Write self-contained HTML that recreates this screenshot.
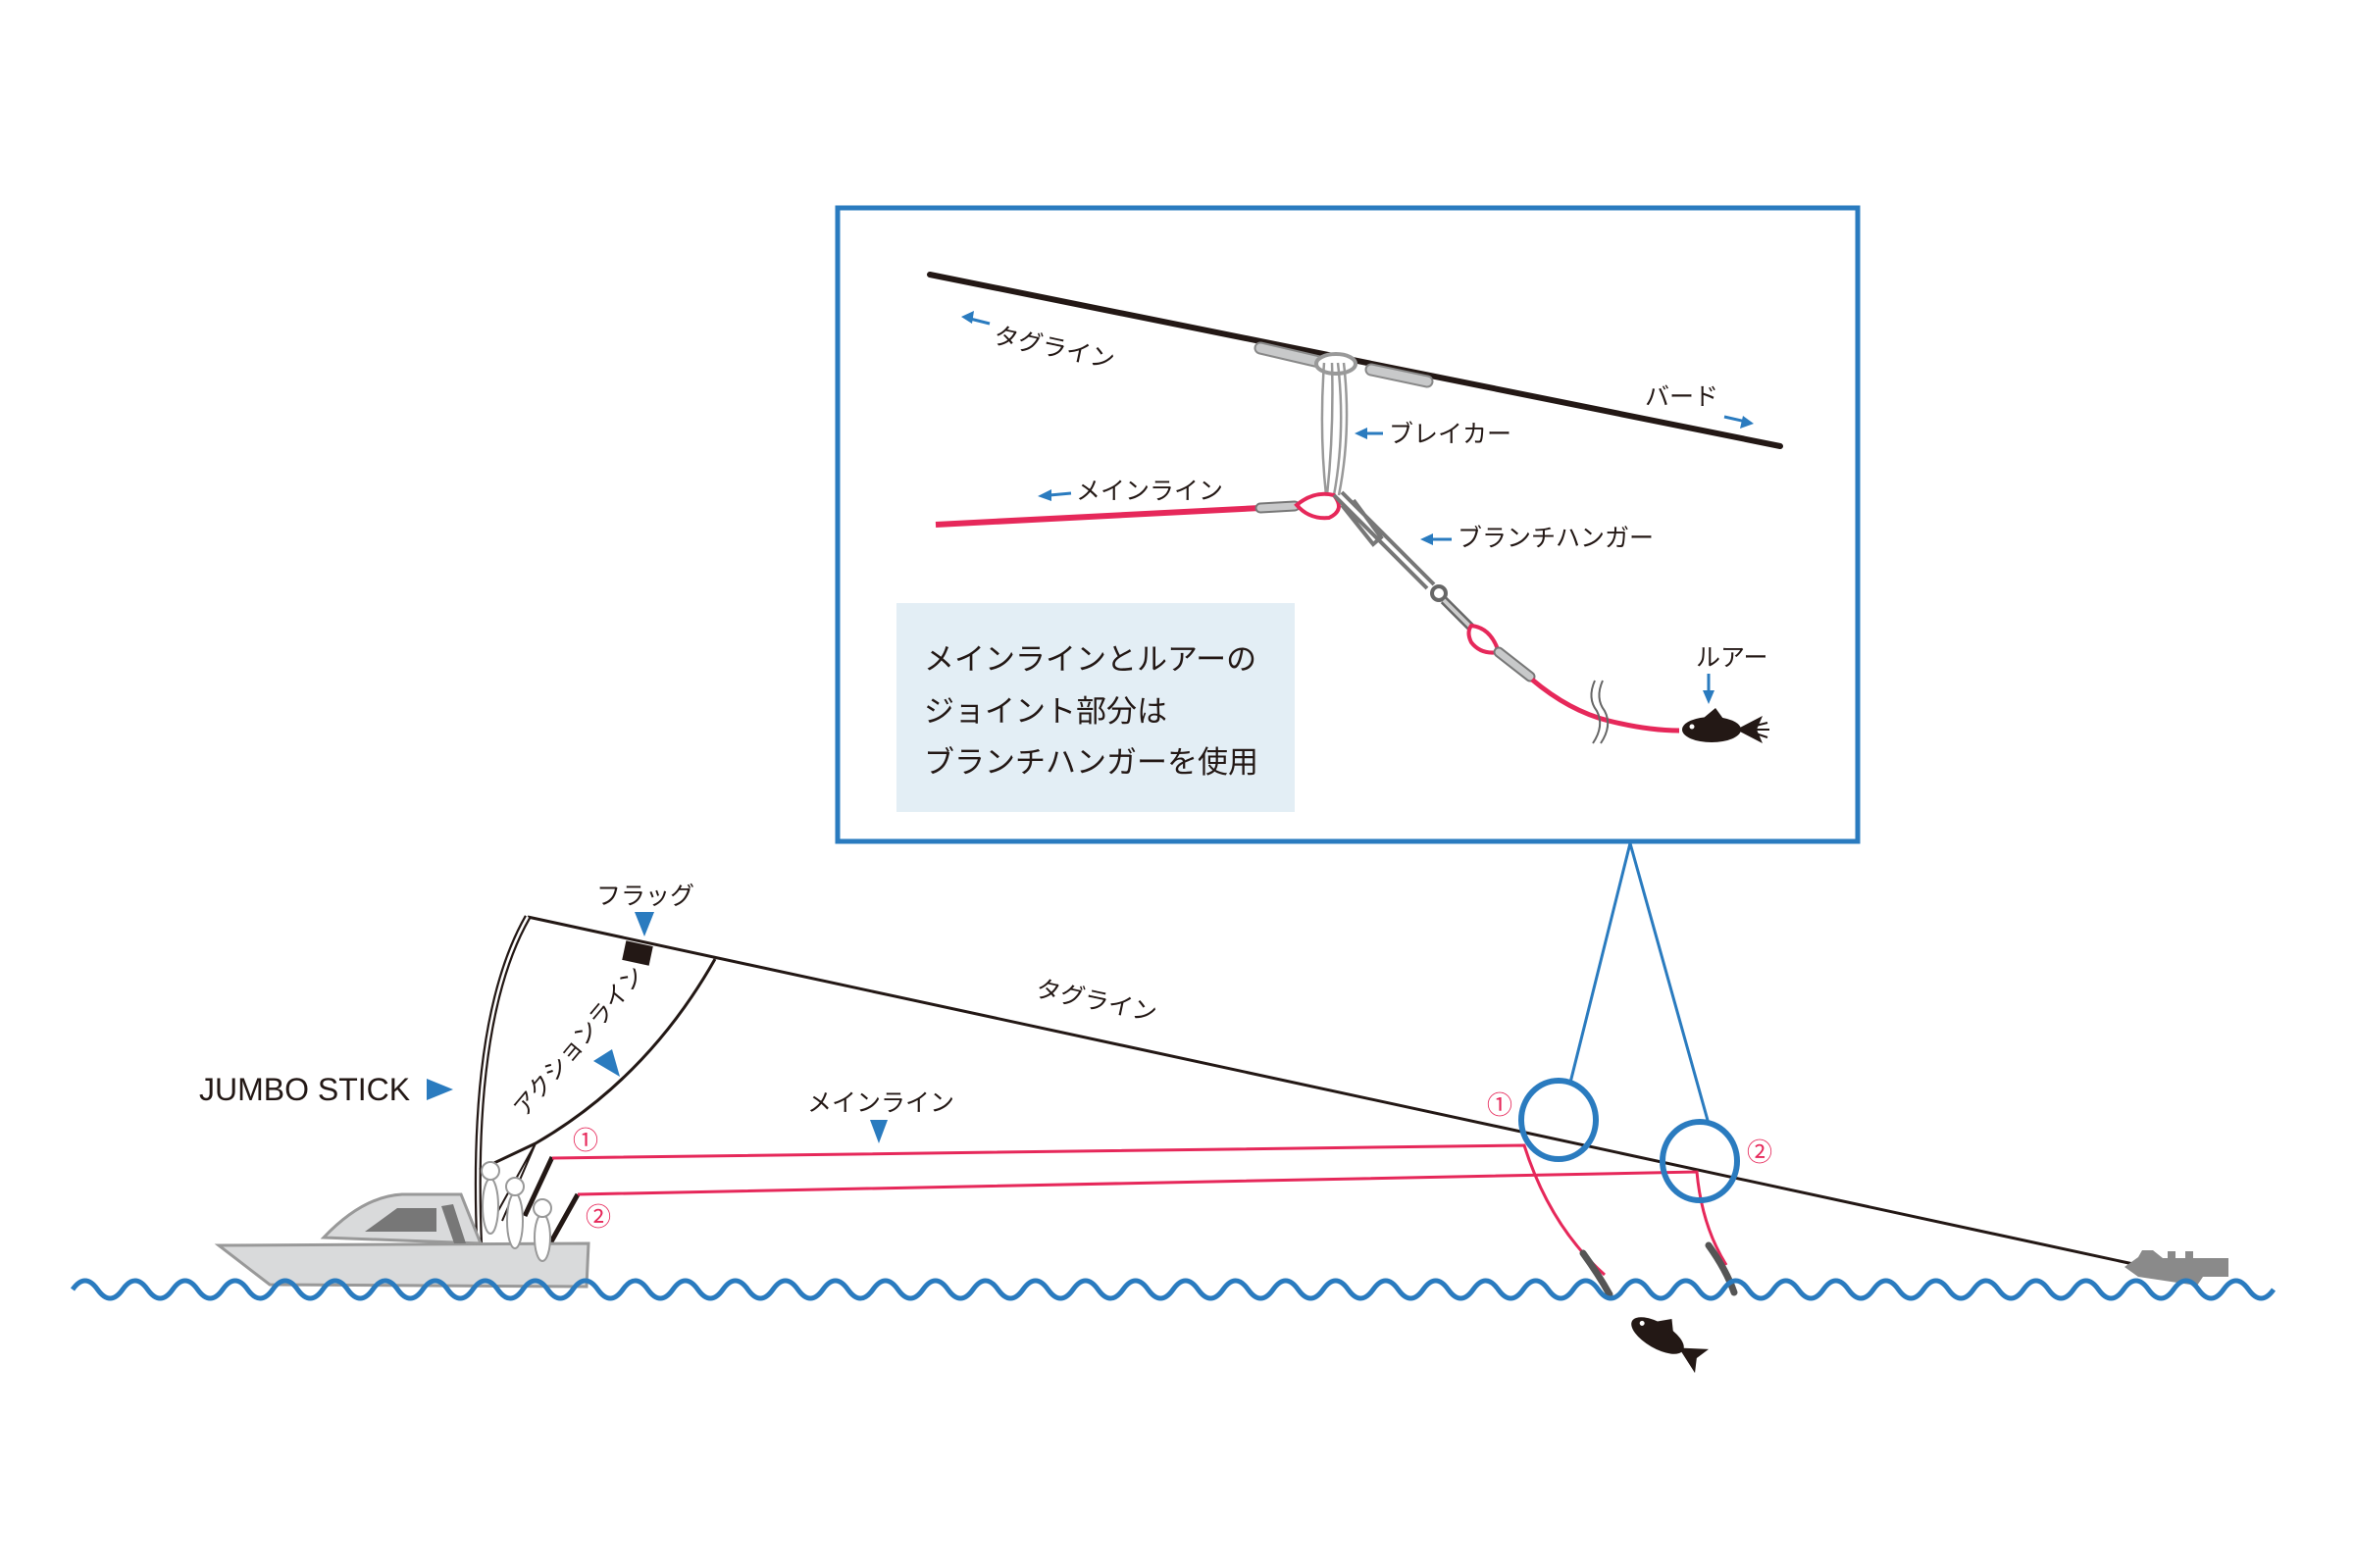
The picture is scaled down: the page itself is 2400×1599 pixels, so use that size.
<!DOCTYPE html>
<html><head><meta charset="utf-8"><style>
html,body{margin:0;padding:0;background:#fff;}
svg{display:block;}
text{font-family:"Liberation Sans","Noto Sans CJK JP",sans-serif;fill:#231815;}
</style></head><body>
<svg width="2400" height="1599" viewBox="0 0 2400 1599" xmlns="http://www.w3.org/2000/svg">
<defs>
<g id="fish"><ellipse cx="0" cy="0" rx="30" ry="13" fill="#231815"/><path d="M25,0 L52,-14 L46,0 L52,14 Z" fill="#231815"/><path d="M-8,-12 L4,-22 L12,-11 Z" fill="#231815"/><circle cx="-20" cy="-3" r="2.5" fill="#fff"/></g>
</defs>

<rect x="854" y="212" width="1040" height="646" fill="#fff" stroke="#2a7bbf" stroke-width="5"/>
<rect x="914" y="615" width="406" height="213" fill="#e3eef5"/>
<text x="942" y="683" font-size="31">メインラインとルアーの</text>
<text x="942" y="736" font-size="31">ジョイント部分は</text>
<text x="942" y="788" font-size="31">ブランチハンガーを使用</text>

<line x1="948" y1="280" x2="1815" y2="455" stroke="#231815" stroke-width="6" stroke-linecap="round"/>
<line x1="1285" y1="355" x2="1345" y2="369" stroke="#888" stroke-width="13" stroke-linecap="round"/>
<line x1="1285" y1="355" x2="1345" y2="369" stroke="#c8c9ca" stroke-width="9" stroke-linecap="round"/>
<line x1="1398" y1="377" x2="1455" y2="389" stroke="#888" stroke-width="13" stroke-linecap="round"/>
<line x1="1398" y1="377" x2="1455" y2="389" stroke="#c8c9ca" stroke-width="9" stroke-linecap="round"/>
<ellipse cx="1362" cy="371" rx="20" ry="10" fill="#fff" stroke="#999" stroke-width="4"/>
<path d="M1350,370 Q1345,440 1352,505 M1358,370 Q1360,440 1353,505 M1364,370 Q1372,440 1360,505 M1370,370 Q1378,440 1365,505" fill="none" stroke="#999" stroke-width="2.5"/>
<path d="M954,535 L1285,518" stroke="#e6285a" stroke-width="6" fill="none"/>
<line x1="1285" y1="518" x2="1320" y2="516" stroke="#777" stroke-width="11" stroke-linecap="round"/>
<line x1="1285" y1="518" x2="1320" y2="516" stroke="#c8c9ca" stroke-width="7" stroke-linecap="round"/>
<path d="M1322,515 Q1340,500 1360,505 Q1372,520 1355,528 Q1335,530 1322,515 Z" fill="none" stroke="#e6285a" stroke-width="4"/>
<path d="M1360,505 L1455,600 M1368,502 L1462,596 M1368,515 L1400,555 L1408,548 L1380,510" fill="none" stroke="#777" stroke-width="4"/>
<circle cx="1467" cy="605" r="7" fill="none" stroke="#666" stroke-width="4"/>
<path d="M1472,612 L1500,640" stroke="#666" stroke-width="9"/>
<path d="M1472,612 L1500,640" stroke="#ccc" stroke-width="4"/>
<path d="M1500,638 Q1520,640 1528,665 Q1510,668 1500,655 Q1495,645 1500,638 Z" fill="none" stroke="#e6285a" stroke-width="4"/>
<line x1="1528" y1="665" x2="1560" y2="690" stroke="#777" stroke-width="11" stroke-linecap="round"/>
<line x1="1528" y1="665" x2="1560" y2="690" stroke="#c8c9ca" stroke-width="7" stroke-linecap="round"/>
<path d="M1562,693 Q1600,725 1640,735 Q1680,745 1712,745" fill="none" stroke="#e6285a" stroke-width="5"/>
<path d="M1626,694 Q1618,712 1628,725 Q1636,740 1624,758 M1634,694 Q1626,712 1636,725 Q1644,740 1632,758" fill="none" stroke="#666" stroke-width="2"/>
<use href="#fish" x="1745" y="744"/>
<path d="M1790,740 l12,-3 M1790,744 l14,0 M1790,748 l12,4" stroke="#231815" stroke-width="2"/>
<text x="1012" y="350" font-size="25" transform="rotate(12 1012 350)">タグライン</text>
<path d="M1009,330 L985,324" stroke="#2a7bbf" stroke-width="3"/><path d="M980,323 L993,317 L991,330 Z" fill="#2a7bbf"/>
<text x="1677" y="413" font-size="25">バード</text>
<path d="M1758,425 L1780,430" stroke="#2a7bbf" stroke-width="3"/><path d="M1788,432 L1774,437 L1777,424 Z" fill="#2a7bbf"/>
<text x="1416" y="451" font-size="25">ブレイカー</text>
<path d="M1410,442 L1390,442" stroke="#2a7bbf" stroke-width="3"/><path d="M1381,442 L1394,436 L1394,448 Z" fill="#2a7bbf"/>
<text x="1097" y="509" font-size="25">メインライン</text>
<path d="M1092,503 L1070,505" stroke="#2a7bbf" stroke-width="3"/><path d="M1058,506 L1072,499 L1072,511 Z" fill="#2a7bbf"/>
<text x="1486" y="557" font-size="25">ブランチハンガー</text>
<path d="M1480,550 L1458,550" stroke="#2a7bbf" stroke-width="3"/><path d="M1448,550 L1461,544 L1461,556 Z" fill="#2a7bbf"/>
<text x="1729" y="679" font-size="25">ルアー</text>
<path d="M1742,687 L1742,708" stroke="#2a7bbf" stroke-width="3"/><path d="M1742,718 L1736,704 L1748,704 Z" fill="#2a7bbf"/>

<path d="M1662,860 L1601,1104 M1662,860 L1742,1146" stroke="#2a7bbf" stroke-width="3" fill="none"/>

<line x1="538" y1="935" x2="2175" y2="1289" stroke="#231815" stroke-width="3"/>
<rect x="636" y="962" width="28" height="20" fill="#231815" transform="rotate(12 650 972)"/>
<path d="M489,1278 Q478,1040 538,935" fill="none" stroke="#231815" stroke-width="7"/>
<path d="M489,1278 Q478,1040 538,935" fill="none" stroke="#fff" stroke-width="2.5"/>
<path d="M729,978 Q660,1100 546,1166 L489,1193" fill="none" stroke="#231815" stroke-width="3"/>
<path d="M546,1166 L505,1240 M546,1166 L512,1245" stroke="#231815" stroke-width="2"/>
<path d="M535,1240 L563,1180 M561,1268 L589,1218" stroke="#231815" stroke-width="5"/>
<path d="M563,1181 L1554,1168 Q1580,1250 1636,1300" fill="none" stroke="#e6285a" stroke-width="3"/>
<path d="M589,1218 L1730,1195 Q1735,1250 1760,1290" fill="none" stroke="#e6285a" stroke-width="3"/>
<path d="M1614,1278 Q1630,1300 1641,1320" stroke="#555" stroke-width="7" stroke-linecap="round"/>
<path d="M1742,1270 Q1760,1295 1768,1318" stroke="#555" stroke-width="7" stroke-linecap="round"/>
<ellipse cx="1589" cy="1142" rx="38" ry="40" fill="none" stroke="#2a7bbf" stroke-width="6"/>
<ellipse cx="1733" cy="1184" rx="38" ry="40" fill="none" stroke="#2a7bbf" stroke-width="6"/>
<text x="1516" y="1136" font-size="26" style="fill:#e6285a">①</text>
<text x="1781" y="1184" font-size="26" style="fill:#e6285a">②</text>
<text x="584" y="1172" font-size="26" style="fill:#e6285a">①</text>
<text x="597" y="1250" font-size="26" style="fill:#e6285a">②</text>

<path d="M223,1270 L600,1268 L598,1312 L275,1310 Z" fill="#d9dadb" stroke="#999" stroke-width="3"/>
<path d="M330,1262 Q370,1220 410,1218 L470,1218 L490,1268 Z" fill="#d9dadb" stroke="#999" stroke-width="3"/>
<path d="M372,1256 L405,1232 L445,1232 L445,1256 Z" fill="#777"/>
<path d="M450,1230 L462,1228 L475,1268 L463,1268 Z" fill="#777"/>
<ellipse cx="500" cy="1230" rx="8" ry="28" fill="#fff" stroke="#999" stroke-width="2"/><circle cx="500" cy="1194" r="9" fill="#fff" stroke="#999" stroke-width="2"/>
<ellipse cx="525" cy="1245" rx="8" ry="28" fill="#fff" stroke="#999" stroke-width="2"/><circle cx="525" cy="1210" r="9" fill="#fff" stroke="#999" stroke-width="2"/>
<ellipse cx="553" cy="1262" rx="8" ry="24" fill="#fff" stroke="#999" stroke-width="2"/><circle cx="553" cy="1232" r="9" fill="#fff" stroke="#999" stroke-width="2"/>
<path d="M2166,1292 L2180,1282 L2184,1275 L2195,1275 L2205,1283 L2210,1283 L2210,1276 L2218,1276 L2218,1283 L2228,1283 L2228,1276 L2236,1276 L2236,1283 L2272,1283 L2272,1302 L2246,1302 L2240,1311 L2180,1302 Z" fill="#8a8a8a"/>
<use href="#fish" transform="translate(1690,1362) rotate(30)"/>

<path d="M74,1315 q12.75,-18 25.5,0
t25.5,0 t25.5,0 t25.5,0 t25.5,0 t25.5,0 t25.5,0 t25.5,0 t25.5,0 t25.5,0 t25.5,0
t25.5,0 t25.5,0 t25.5,0 t25.5,0 t25.5,0 t25.5,0 t25.5,0 t25.5,0 t25.5,0 t25.5,0
t25.5,0 t25.5,0 t25.5,0 t25.5,0 t25.5,0 t25.5,0 t25.5,0 t25.5,0 t25.5,0 t25.5,0
t25.5,0 t25.5,0 t25.5,0 t25.5,0 t25.5,0 t25.5,0 t25.5,0 t25.5,0 t25.5,0 t25.5,0
t25.5,0 t25.5,0 t25.5,0 t25.5,0 t25.5,0 t25.5,0 t25.5,0 t25.5,0 t25.5,0 t25.5,0
t25.5,0 t25.5,0 t25.5,0 t25.5,0 t25.5,0 t25.5,0 t25.5,0 t25.5,0 t25.5,0 t25.5,0
t25.5,0 t25.5,0 t25.5,0 t25.5,0 t25.5,0 t25.5,0 t25.5,0 t25.5,0 t25.5,0 t25.5,0
t25.5,0 t25.5,0 t25.5,0 t25.5,0 t25.5,0 t25.5,0 t25.5,0 t25.5,0 t25.5,0 t25.5,0
t25.5,0 t25.5,0 t25.5,0 t25.5,0 t25.5,0 t25.5,0 t25.5,0" fill="none" stroke="#2a7bbf" stroke-width="5"/>

<text x="608" y="922" font-size="25">フラッグ</text>
<path d="M647,930 L667,930 L657,955 Z" fill="#2a7bbf"/>
<text x="203" y="1122" font-size="32">JUMBO STICK</text>
<path d="M435,1100 L462,1111 L435,1122 Z" fill="#2a7bbf"/>
<text x="0" y="0" font-size="24" transform="translate(535,1140) rotate(-50)">アクションライン</text>
<path d="M605,1082 L624,1070 L632,1098 Z" fill="#2a7bbf"/>
<text x="0" y="0" font-size="25" transform="translate(1055,1016) rotate(12)">タグライン</text>
<text x="823" y="1133" font-size="25">メインライン</text>
<path d="M887,1142 L905,1142 L896,1166 Z" fill="#2a7bbf"/>
</svg>
</body></html>
